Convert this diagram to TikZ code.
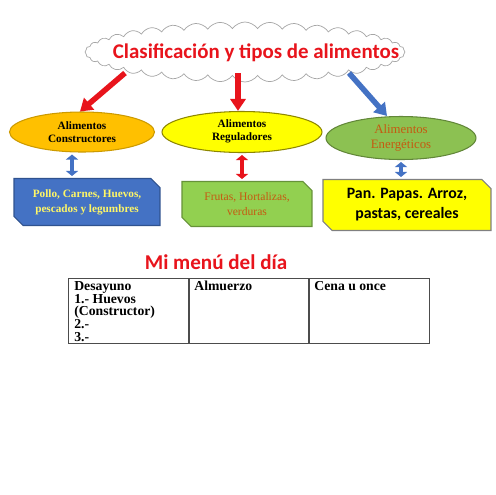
\documentclass[tikz,border=0pt]{standalone}
\usepackage{fontspec}
\setmainfont{Liberation Serif}
\newfontfamily\calibri{Carlito}
\usepackage{xcolor}
\usepackage{tikz}
\usetikzlibrary{shapes.symbols, shapes.misc, shapes.geometric, arrows.meta, positioning}

\definecolor{rojo}{HTML}{E8141C}
\definecolor{azul}{HTML}{4472C4}
\definecolor{azulborde}{HTML}{2F528F}
\definecolor{naranja}{HTML}{FFC000}
\definecolor{amarillo}{HTML}{FFFF00}
\definecolor{verde}{HTML}{8CC152}
\definecolor{verdeclaro}{HTML}{92D050}
\definecolor{cafe}{HTML}{C55A11}

\tikzset{
  elipse/.style={ellipse, draw, line width=0.6pt, align=center, inner sep=0pt, font=\fontsize{6.4}{7.4}\selectfont\bfseries},
  caja/.style={chamfered rectangle, chamfered rectangle corners={north east, south west},
    chamfered rectangle xsep=0.09cm, chamfered rectangle ysep=0.09cm, draw, line width=0.6pt,
    align=center, inner sep=0pt},
  flecha/.style={line width=0.11cm, -{Triangle[width=0.3cm, length=0.24cm]}},
  doble/.style={line width=0.09cm, {Triangle[width=0.24cm, length=0.1cm]}-{Triangle[width=0.24cm, length=0.1cm]},
    shorten <=0.04cm, shorten >=0.04cm},
  celda/.style={rectangle, draw=black!70, line width=0.6pt, minimum height=1.3cm, inner sep=0pt, anchor=north west},
  textocelda/.style={anchor=north west, align=left, inner sep=0pt, font=\fontsize{7.8}{7.3}\selectfont\bfseries}
}

\begin{document}
\begin{tikzpicture}[x=0.02cm, y=-0.02cm]
  \useasboundingbox[fill=white] (0,0) rectangle (495,495);

  % nube del titulo
  \node[cloud, cloud puffs=40, cloud puff arc=110, cloud ignores aspect, draw=black!35, fill=white,
    minimum width=6.4cm, minimum height=1.2cm, inner sep=0pt] (nube) at (245,52) {};
  \node[text=rojo, font=\calibri\fontsize{11.9}{13}\selectfont\bfseries] (titulo) at (256,53)
    {Clasificación y tipos de alimentos};

  % tres grupos
  \node[elipse, fill=naranja, draw=naranja!80!black, minimum width=2.9cm, minimum height=0.8cm] (constr) at (82,132)
    {Alimentos\\Constructores};
  \node[elipse, fill=amarillo, draw=olive, minimum width=3.2cm, minimum height=0.82cm] (regul) at (242,132)
    {\raisebox{0.06cm}{\shortstack{Alimentos\\Reguladores}}};
  \node[elipse, fill=verde, draw=verde!70!black, text=cafe, font=\fontsize{7.3}{8.6}\selectfont,
    minimum width=3cm, minimum height=0.86cm] (energ) at (401,138) {Alimentos\\Energéticos};

  \coordinate (s1) at (125,73);
  \coordinate (s2) at (238,73);
  \coordinate (s3) at (349,73);
  \draw[flecha, rojo] (s1) -- ([xshift=-0.04cm]constr.north);
  \draw[flecha, rojo] (s2) -- (s2 |- regul.north);
  \draw[flecha, azul] (s3) -- ([xshift=-0.28cm]energ.north);

  % ejemplos
  \node[caja, fill=azul, draw=azulborde, text={yellow!60!white}, font=\fontsize{6.4}{8.4}\selectfont\bfseries,
    minimum width=2.92cm, minimum height=0.94cm] (carnes) at (87,202)
    {Pollo, Carnes, Huevos,\\pescados y legumbres};
  \node[caja, fill=verdeclaro, draw=verdeclaro!70!black, text=cafe, font=\fontsize{6.6}{8}\selectfont,
    minimum width=2.6cm, minimum height=0.9cm] (frutas) at (247,204)
    {Frutas, Hortalizas,\\verduras};
  \node[caja, fill=amarillo, draw=black!50, font=\calibri\fontsize{9}{11.5}\selectfont\bfseries,
    minimum width=3.36cm, minimum height=1.02cm] (pan) at (407,205)
    {Pan. Papas. Arroz,\\pastas, cereales};

  \draw[doble, azul] ([xshift=-0.2cm]constr.south) -- ([xshift=-0.2cm]constr.south |- carnes.north);
  \draw[doble, rojo] (regul.south) -- (regul.south |- frutas.north);
  \draw[doble, azul] (energ.south) -- (energ.south |- pan.north);

  % menu
  \node[text=rojo, font=\calibri\fontsize{12}{13}\selectfont\bfseries] (menu) at (216,262) {Mi menú del día};

  \node[celda, minimum width=2.4cm] (desayuno) at (68,278) {};
  \node[celda, minimum width=2.38cm] (almuerzo) at (desayuno.north east) {};
  \node[celda, minimum width=2.4cm] (cena) at (almuerzo.north east) {};
  \node[textocelda] (t1) at ([xshift=0.12cm, yshift=-0.06cm]desayuno.north west)
    {Desayuno\\1.- Huevos\\(Constructor)\\2.-\\3.-};
  \node[textocelda] (t2) at ([xshift=0.1cm, yshift=-0.06cm]almuerzo.north west) {Almuerzo};
  \node[textocelda] (t3) at ([xshift=0.1cm, yshift=-0.06cm]cena.north west) {Cena u once};
\end{tikzpicture}
\end{document}
